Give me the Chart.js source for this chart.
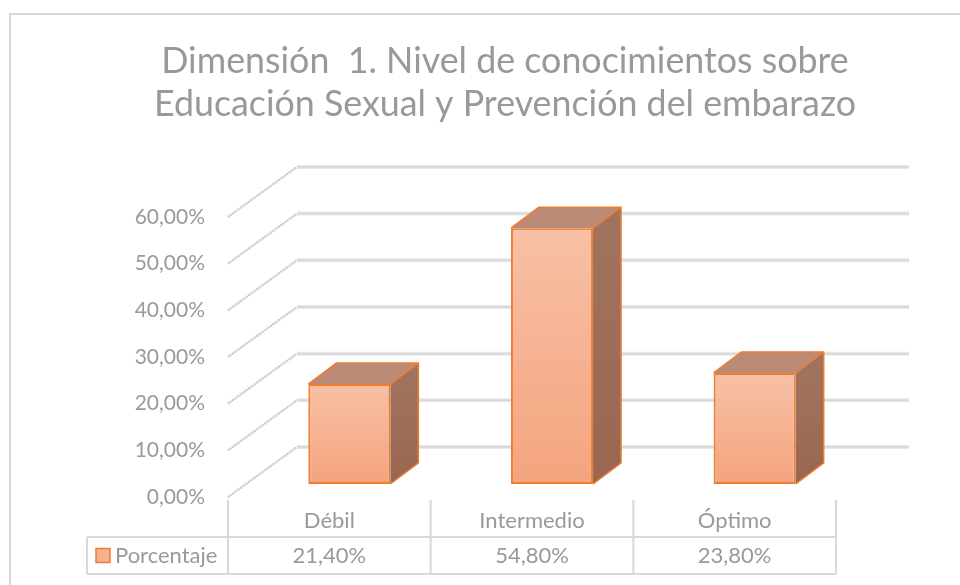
<!DOCTYPE html>
<html>
<head>
<meta charset="utf-8">
<script src="https://cdn.jsdelivr.net/npm/chart.js@4"></script>
<style>
html,body{margin:0;padding:0;background:#fff;}
#wrap{width:960px;height:585px;position:relative;}
</style>
</head>
<body>
<div id="wrap"><canvas id="c" width="960" height="585"></canvas></div>
<script>
const titleLines = ['Dimensión  1. Nivel de conocimientos sobre', 'Educación Sexual y Prevención del embarazo'];
const categories = ['Débil', 'Intermedio', 'Óptimo'];
const seriesName = 'Porcentaje';
const values = [21.4, 54.8, 23.8];
const yTicks = [0, 10, 20, 30, 40, 50, 60];

const FONT = 'Lato, Carlito, Calibri, "Open Sans", sans-serif';
const GRAY = '#999999';
const LINE = '#d9d9d9';
const ORANGE = '#ed7d31';
const fmt = v => v.toFixed(2).replace('.', ',') + '%';

// 3D geometry offsets (pixels)
const WALL = {dx: 69, dy: -50};
const PLANE = {dx: 20, dy: -13};
const DEPTH = {dx: 28, dy: -21};

const plugin3d = {
  id: 'bars3d',
  beforeDraw(chart) {
    const c = chart.ctx;
    c.save();
    c.strokeStyle = LINE;
    c.lineWidth = 2;
    c.strokeRect(10, 14, 1000, 700);
    c.restore();
  },
  beforeDatasetsDraw(chart) {
    const c = chart.ctx;
    const {left, right} = chart.chartArea;
    const y = chart.scales.y;
    c.save();
    yTicks.forEach(v => {
      const yp = y.getPixelForValue(v);
      // diagonal (side wall)
      c.strokeStyle = '#c2c2c2';
      c.lineWidth = 2.4;
      c.setLineDash([1.5, 1]);
      c.beginPath();
      c.moveTo(left, yp);
      c.lineTo(left + WALL.dx, yp + WALL.dy);
      c.stroke();
      c.setLineDash([]);
      // back wall gridline
      c.strokeStyle = '#e8e8e8';
      c.lineWidth = 4;
      c.beginPath();
      c.moveTo(left + WALL.dx, yp + WALL.dy);
      c.lineTo(right + WALL.dx + 4, yp + WALL.dy);
      c.stroke();
      c.strokeStyle = '#d6d6d6';
      c.lineWidth = 1.5;
      c.beginPath();
      c.moveTo(left + WALL.dx, yp + WALL.dy);
      c.lineTo(right + WALL.dx + 4, yp + WALL.dy);
      c.stroke();
    });
    c.restore();
    c.save();
    c.translate(PLANE.dx, PLANE.dy);
  },
  afterDatasetsDraw(chart) {
    const c = chart.ctx;
    c.restore();
    const meta = chart.getDatasetMeta(0);
    c.save();
    c.lineJoin = 'round';
    meta.data.forEach(bar => {
      const xl = bar.x - bar.width / 2 + PLANE.dx;
      const xr = bar.x + bar.width / 2 + PLANE.dx;
      const yt = bar.y + PLANE.dy;
      const yb = bar.base + PLANE.dy;
      // top face
      c.fillStyle = '#bb8b76';
      c.beginPath();
      c.moveTo(xl, yt);
      c.lineTo(xl + DEPTH.dx, yt + DEPTH.dy);
      c.lineTo(xr + DEPTH.dx, yt + DEPTH.dy);
      c.lineTo(xr, yt);
      c.closePath();
      c.fill();
      // side face
      const g = c.createLinearGradient(0, yt, 0, yb);
      g.addColorStop(0, '#a0735f');
      g.addColorStop(1, '#9a6650');
      c.fillStyle = g;
      c.beginPath();
      c.moveTo(xr, yt);
      c.lineTo(xr + DEPTH.dx, yt + DEPTH.dy);
      c.lineTo(xr + DEPTH.dx, yb + DEPTH.dy);
      c.lineTo(xr, yb);
      c.closePath();
      c.fill();
      // edges
      c.strokeStyle = ORANGE;
      c.lineWidth = 1.5;
      c.beginPath();
      c.moveTo(xl, yt);
      c.lineTo(xl + DEPTH.dx, yt + DEPTH.dy);
      c.lineTo(xr + DEPTH.dx, yt + DEPTH.dy);
      c.lineTo(xr + DEPTH.dx, yb + DEPTH.dy);
      c.lineTo(xr, yb);
      c.moveTo(xr, yt);
      c.lineTo(xr + DEPTH.dx, yt + DEPTH.dy);
      c.stroke();
    });
    c.restore();
  },
  afterDraw(chart) {
    const c = chart.ctx;
    const {left, right, bottom} = chart.chartArea;
    const x = chart.scales.x;
    const n = categories.length;
    const step = (right - left) / n;
    const top = bottom + 3;
    const row = bottom + 40;
    const end = bottom + 77;
    const legendLeft = 87;
    c.save();
    c.strokeStyle = LINE;
    c.lineWidth = 2;
    c.beginPath();
    for (let i = 0; i <= n; i++) {
      const xp = left + i * step;
      c.moveTo(xp, top);
      c.lineTo(xp, end);
    }
    c.moveTo(legendLeft, row);
    c.lineTo(right, row);
    c.moveTo(legendLeft, end);
    c.lineTo(right, end);
    c.moveTo(legendLeft, row);
    c.lineTo(legendLeft, end);
    c.stroke();

    c.fillStyle = GRAY;
    c.font = '22px ' + FONT;
    c.textAlign = 'center';
    c.textBaseline = 'middle';
    categories.forEach((cat, i) => {
      const xp = x.getPixelForValue(i);
      c.fillText(cat, xp, (top + row) / 2 + 2);
      c.fillText(fmt(values[i]), xp, (row + end) / 2);
    });
    // legend key
    const ky = (row + end) / 2;
    c.fillStyle = '#f6b08e';
    c.fillRect(96, ky - 7, 14, 14);
    c.strokeStyle = ORANGE;
    c.lineWidth = 1.5;
    c.strokeRect(96, ky - 7, 14, 14);
    c.fillStyle = GRAY;
    c.textAlign = 'left';
    c.fillText(seriesName, 115, ky);
    c.restore();
  }
};

const ctx = document.getElementById('c').getContext('2d');
new Chart(ctx, {
  type: 'bar',
  data: {
    labels: categories,
    datasets: [{
      label: seriesName,
      data: values,
      borderColor: ORANGE,
      borderWidth: 2,
      borderSkipped: false,
      barPercentage: 0.405,
      categoryPercentage: 1,
      backgroundColor(context) {
        const chart = context.chart;
        if (!chart.chartArea) return '#f6b08e';
        const y = chart.scales.y;
        const v = values[context.dataIndex];
        const g = chart.ctx.createLinearGradient(0, y.getPixelForValue(v), 0, y.getPixelForValue(0));
        g.addColorStop(0, '#f8c0a5');
        g.addColorStop(1, '#f4a47e');
        return g;
      }
    }]
  },
  options: {
    responsive: false,
    animation: false,
    events: [],
    layout: {padding: {left: 50, right: 0, top: 0, bottom: 88}},
    plugins: {
      legend: {display: false},
      tooltip: {enabled: false},
      title: {
        display: true,
        text: titleLines,
        color: GRAY,
        font: {family: FONT, size: 35.8, weight: 'normal', lineHeight: 1.2},
        padding: {top: 40, bottom: 91}
      }
    },
    scales: {
      x: {display: false},
      y: {
        min: 0,
        max: 60,
        afterFit(scale) { scale.width = 178; },
        grid: {display: false, drawTicks: false},
        border: {display: false},
        ticks: {
          stepSize: 10,
          padding: 23,
          color: GRAY,
          font: {family: FONT, size: 21},
          callback: v => fmt(v)
        }
      },
      yRight: {
        type: 'linear',
        position: 'right',
        afterFit(scale) { scale.width = 124; },
        grid: {display: false, drawTicks: false},
        border: {display: false},
        ticks: {display: false}
      }
    }
  },
  plugins: [plugin3d]
});
</script>
</body>
</html>
